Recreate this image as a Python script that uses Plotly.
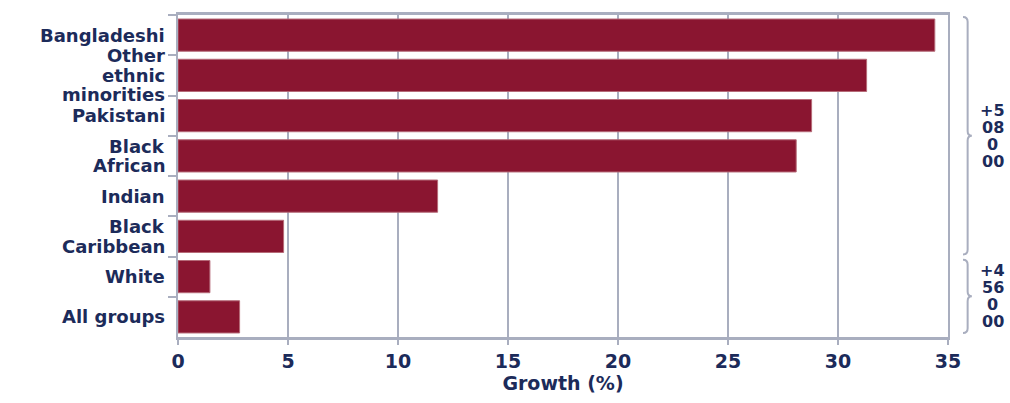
import plotly.graph_objects as go

categories = ["Bangladeshi", "Other ethnic minorities", "Pakistani", "Black African",
              "Indian", "Black Caribbean", "White", "All groups"]
category_lines = [["Bangladeshi"], ["Other", "ethnic", "minorities"], ["Pakistani"],
                  ["Black", "African"], ["Indian"], ["Black", "Caribbean"], ["White"],
                  ["All groups"]]
growth = [34.4, 31.3, 28.8, 28.1, 11.8, 4.8, 1.45, 2.8]
x_ticks = [0, 5, 10, 15, 20, 25, 30, 35]

brace_groups = [
    {"start": -0.45, "end": 5.45, "label": ["+5", "08", "0", "00"]},
    {"start": 5.58, "end": 7.4, "label": ["+4", "56", "0", "00"]},
]

TEXT = "#1c2b5a"
GRID = "#a9aebf"
BAR = "#8a1530"
FONT = dict(family="DejaVu Sans", size=19, color=TEXT, weight="bold")
LABEL_FONT = dict(family="DejaVu Sans", size=18, color=TEXT, weight="bold")

fig = go.Figure()
fig.add_trace(go.Bar(
    x=growth, y=categories, orientation="h",
    marker=dict(color=BAR, line=dict(color="#b56a78", width=1)),
    width=0.8,
))

shapes = []
annotations = []

for i, lines in enumerate(category_lines):
    n = len(lines)
    for k, line in enumerate(lines):
        annotations.append(dict(
            x=0, y=categories[i], xref="paper", yref="y", xanchor="right", yanchor="middle",
            xshift=-12, yshift=-(k - (n - 1) / 2) * 19.5, showarrow=False,
            text=line, font=LABEL_FONT, borderpad=0,
        ))

for g in brace_groups:
    y0, y1 = g["start"], g["end"]
    ym = (y0 + y1) / 2
    d = 0.12
    xa, xb, xc = 1.0195, 1.0255, 1.031
    path = (f"M {xa},{y0} Q {xb},{y0} {xb},{y0 + d} L {xb},{ym - d} "
            f"Q {xb},{ym} {xc},{ym} Q {xb},{ym} {xb},{ym + d} "
            f"L {xb},{y1 - d} Q {xb},{y1} {xa},{y1}")
    shapes.append(dict(type="path", path=path, xref="paper", yref="y",
                       line=dict(color=GRID, width=2)))
    n = len(g["label"])
    for k, line in enumerate(g["label"]):
        annotations.append(dict(
            x=1.058, y=ym, xref="paper", yref="y", xanchor="center", yanchor="middle",
            yshift=-(k - (n - 1) / 2) * 17, showarrow=False, text=line, borderpad=0,
            font=dict(family="DejaVu Sans", size=16, color=TEXT, weight="bold"),
        ))

fig.update_layout(
    width=1010, height=403,
    margin=dict(l=178, r=62, t=13, b=59),
    paper_bgcolor="white", plot_bgcolor="white",
    showlegend=False,
    bargap=0.2,
    font=FONT,
    shapes=shapes,
    annotations=annotations,
    xaxis=dict(
        range=[0, 35], tickvals=x_ticks, ticktext=[str(v) for v in x_ticks],
        showgrid=True, gridcolor=GRID, gridwidth=2,
        showline=True, linecolor=GRID, linewidth=3, mirror=True,
        ticks="outside", ticklen=5, tickcolor=GRID, tickwidth=2,
        zeroline=False,
        title=dict(text="Growth (%)", font=FONT, standoff=6),
        tickfont=FONT,
    ),
    yaxis=dict(
        autorange="reversed",
        showgrid=False, showticklabels=False,
        showline=True, linecolor=GRID, linewidth=2, mirror=True,
        ticks="outside", tickson="boundaries", ticklen=8, tickcolor=GRID, tickwidth=2,
    ),
)

fig.write_html("out.html")
